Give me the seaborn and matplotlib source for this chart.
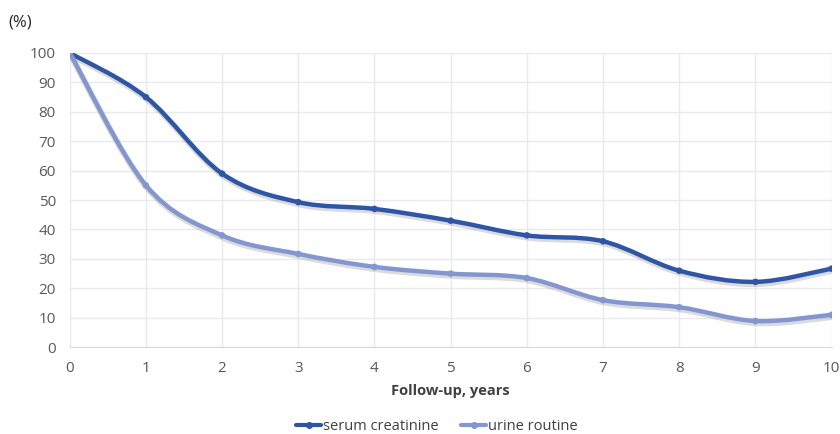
import numpy as np
import pandas as pd
import matplotlib
matplotlib.use("Agg")
import matplotlib.pyplot as plt
import seaborn as sns
from matplotlib.path import Path
from matplotlib.patches import PathPatch
from matplotlib.lines import Line2D
import matplotlib.patheffects as pe

sns.set_style('white')
plt.rcParams['font.family'] = ['Open Sans', 'DejaVu Sans']

# data
years = [0, 1, 2, 3, 4, 5, 6, 7, 8, 9, 10]
serum_creatinine = [100, 85, 59, 49.3, 47, 43, 38, 36, 26, 22.2, 26.7]
urine_routine = [100, 55, 38, 31.7, 27.3, 25, 23.5, 16, 13.6, 8.9, 11]
series_names = ['serum creatinine', 'urine routine']
colors = ['#2f55a6', '#8396d0']

df = pd.DataFrame({'year': years * 2,
                   'value': serum_creatinine + urine_routine,
                   'series': [series_names[0]] * len(years) + [series_names[1]] * len(years)})


def smooth_path(x, y):
    # Excel-like smoothed line: cubic Bezier segments through the data points
    pts = np.column_stack([x, y]).astype(float)
    ext = np.vstack([pts[0], pts, pts[-1]])
    verts = [pts[0]]
    codes = [Path.MOVETO]
    for i in range(len(pts) - 1):
        p0, p1, p2, p3 = ext[i], ext[i + 1], ext[i + 2], ext[i + 3]
        c1 = p1 + (p2 - p0) / 6
        c2 = p2 - (p3 - p1) / 6
        verts += [c1, c2, p2]
        codes += [Path.CURVE4] * 3
    return Path(verts, codes)


fig, ax = plt.subplots(figsize=(8.4, 4.34), dpi=100)
fig.subplots_adjust(left=0.083, right=0.990, top=0.878, bottom=0.200)

for name, col in zip(series_names, colors):
    sub = df[df['series'] == name]
    patch = PathPatch(smooth_path(sub['year'], sub['value']), facecolor='none',
                      edgecolor=col, lw=3.2, capstyle='round', joinstyle='round', zorder=3)
    # soft drop shadow under the line
    patch.set_path_effects([pe.Stroke(offset=(0.6, -1.5), linewidth=4.5, foreground='#9a9a9a', alpha=0.35),
                            pe.Normal()])
    ax.add_patch(patch)

sns.scatterplot(data=df, x='year', y='value', hue='series', palette=colors,
                s=22, edgecolor='none', legend=False, ax=ax, zorder=4)

ax.set_xlim(0, 10)
ax.set_ylim(0, 100)
ax.set_xticks(range(0, 11))
ax.set_yticks(range(0, 101, 10))
ax.grid(True, color='#e9e9ee', lw=1)
ax.set_axisbelow(True)
for s in ['top', 'right', 'left']:
    ax.spines[s].set_visible(False)
ax.spines['bottom'].set_color('#d9d9d9')
ax.tick_params(axis='both', length=0, labelsize=11, colors='#595959')
ax.tick_params(axis='x', pad=10)
ax.tick_params(axis='y', pad=10)

ax.set_xlabel('Follow-up, years', fontsize=10.5, fontweight='bold', color='#404040', labelpad=6)
ax.set_ylabel('')
fig.text(0.010, 0.948, '(%)', fontsize=12, color='#262626', ha='left', va='center')

handles = [Line2D([0], [0], color=c, lw=3, marker='o', markersize=4) for c in colors]
fig.legend(handles, series_names, loc='lower center', bbox_to_anchor=(0.52, -0.03), ncol=2,
           frameon=False, fontsize=10.5, labelcolor='#404040', handlelength=1.7,
           handletextpad=0.1, columnspacing=1.6)

fig.savefig('out.png', dpi=100)
